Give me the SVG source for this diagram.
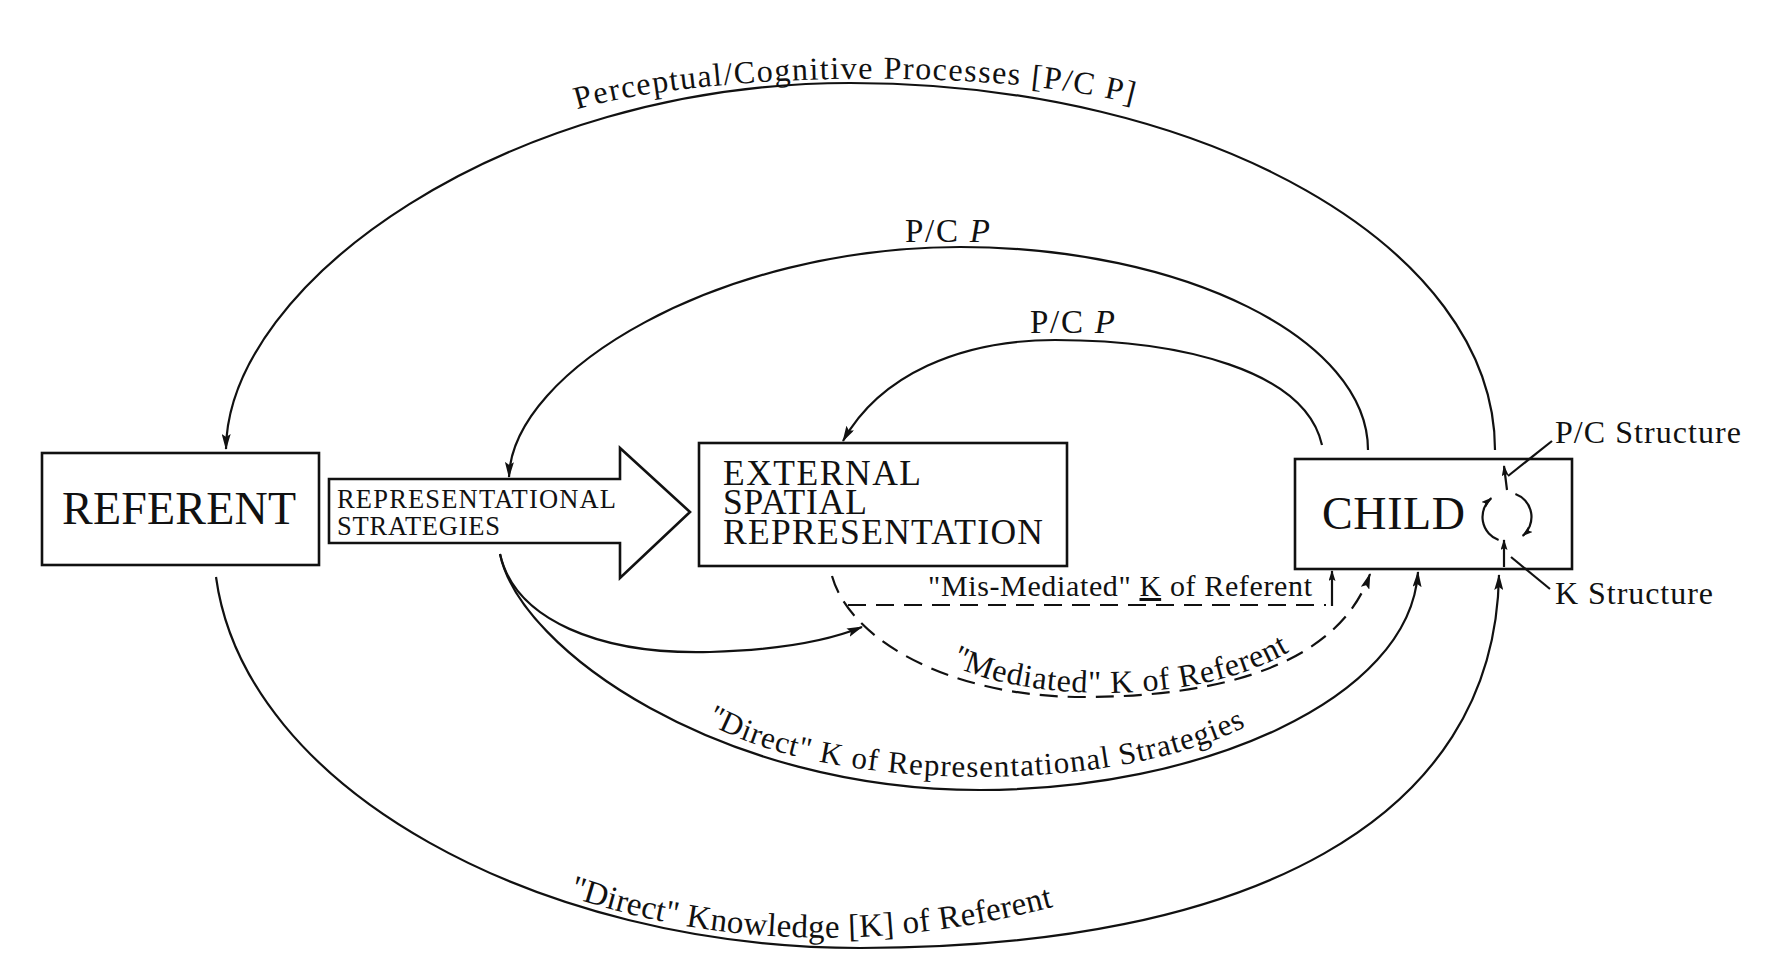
<svg xmlns="http://www.w3.org/2000/svg" width="1788" height="978" viewBox="0 0 1788 978">
<style>
.box{fill:#fff;stroke:#111;stroke-width:2.6}
.ln{fill:none;stroke:#111;stroke-width:2.2}
.dash{stroke-dasharray:18 10}
text{font-family:"Liberation Serif","Times New Roman",serif;fill:#111}
</style>
<defs>
<marker id="ah" markerWidth="16" markerHeight="9" refX="15" refY="4.5" orient="auto" markerUnits="userSpaceOnUse"><path d="M0,0 L16,4.5 L0,9 L3,4.5 z" fill="#111"/></marker>
<marker id="ahs" markerWidth="11" markerHeight="7" refX="10" refY="3.5" orient="auto" markerUnits="userSpaceOnUse"><path d="M0,0 L11,3.5 L0,7 L2,3.5 z" fill="#111"/></marker>
<path id="tpTop" d="M 575 110 C 700 72, 1000 66, 1140 106"/>
<path id="tpOuter" d="M 565 895 Q 800 975 1060 905"/>
<path id="tpRep" d="M 706 722 C 820 790, 1110 800, 1255 722"/>
<path id="tpMed" d="M 948 662 C 1010 700, 1200 712, 1300 645"/>
</defs>
<rect width="1788" height="978" fill="#fff"/>

<g id="connectors">
<path class="ln" d="M 1495 450 C 1495 247, 1206 83, 850 83 C 505 83, 228 284, 226 449" marker-end="url(#ah)"/>
<path class="ln" d="M 1368 450 C 1368 339, 1184 247, 960 247 C 720 247, 512 370, 509 477" marker-end="url(#ah)"/>
<path class="ln" d="M 1322 445 C 1305 370, 1180 340, 1055 340 C 960 340, 880 375, 843 441" marker-end="url(#ah)"/>
<path class="ln" d="M 216 577 C 245 790, 540 948, 860 948 C 1250 948, 1495 820, 1499 575" marker-end="url(#ah)"/>
<path class="ln" d="M 500 554 C 520 650, 720 790, 980 790 C 1200 790, 1410 700, 1418 572" marker-end="url(#ah)"/>
<path class="ln" d="M 500 554 C 515 620, 600 655, 710 652 C 780 650, 830 640, 862 627" marker-end="url(#ah)"/>
<path class="ln dash" d="M 832 576 C 850 640, 950 697, 1083 697 C 1230 697, 1340 660, 1370 574" marker-end="url(#ah)"/>
<path class="ln dash" d="M 848 605 H 1326"/>
<path class="ln" d="M 1332 606 V 571" marker-end="url(#ahs)"/>
</g>

<g id="referent">
<rect class="box" x="42" y="453" width="277" height="112"/>
<text x="62" y="524" font-size="46" textLength="234">REFERENT</text>
</g>

<g id="strategies">
<polygon class="box" points="329,479 620,479 620,448 690,512 620,578 620,543 329,543"/>
<text x="337" y="508" font-size="26.5" textLength="279">REPRESENTATIONAL</text>
<text x="337" y="535" font-size="26.5" textLength="163">STRATEGIES</text>
</g>

<g id="external">
<rect class="box" x="699" y="443" width="368" height="123"/>
<text x="723" y="485" font-size="35.5" textLength="198">EXTERNAL</text>
<text x="723" y="514" font-size="35.5" textLength="144">SPATIAL</text>
<text x="723" y="544" font-size="35.5" textLength="320">REPRESENTATION</text>
</g>

<g id="child">
<rect class="box" x="1295" y="459" width="277" height="110"/>
<text x="1322" y="529" font-size="46" textLength="143">CHILD</text>
<path class="ln" d="M 1498.6 540 A 24.5 24.5 0 0 1 1491.3 498.2" marker-end="url(#ahs)"/>
<path class="ln" d="M 1515.4 494 A 24.5 24.5 0 0 1 1522.7 535.8" marker-end="url(#ahs)"/>
<path class="ln" d="M 1507 490 L 1504 466" marker-end="url(#ahs)"/>
<path class="ln" d="M 1504 567 L 1504 540" marker-end="url(#ahs)"/>
</g>

<g id="pc-structure">
<path class="ln" d="M 1552 441 L 1508 476"/>
<text x="1555" y="443" font-size="32" textLength="186">P/C Structure</text>
</g>

<g id="k-structure">
<path class="ln" d="M 1550 589 L 1511 557"/>
<text x="1555" y="604" font-size="32" textLength="158">K Structure</text>
</g>

<g id="labels">
<text font-size="32"><textPath href="#tpTop" startOffset="2" textLength="560">Perceptual/Cognitive Processes [P/C P]</textPath></text>
<text x="905" y="242" font-size="33" textLength="85">P/C <tspan font-style="italic">P</tspan></text>
<text x="1030" y="333" font-size="33" textLength="85">P/C <tspan font-style="italic">P</tspan></text>
<text x="928" y="596" font-size="30" textLength="384">"Mis-Mediated" <tspan text-decoration="underline">K</tspan> of Referent</text>
<text font-size="32"><textPath href="#tpMed" startOffset="3" textLength="350">"Mediated" K of Referent</textPath></text>
<text font-size="31"><textPath href="#tpRep" startOffset="0" textLength="555">"Direct" K of Representational Strategies</textPath></text>
<text font-size="33"><textPath href="#tpOuter" startOffset="4" textLength="492">"Direct" Knowledge [K] of Referent</textPath></text>
</g>
</svg>
